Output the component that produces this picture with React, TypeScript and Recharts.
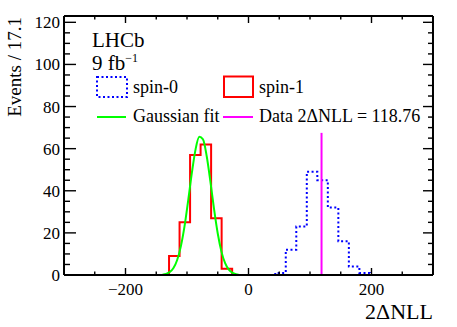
import { ComposedChart, Line, XAxis, YAxis } from "recharts";

// spin-1 pseudo-experiments (red), bin edges and counts
const redEdges = [-129.2, -112.1, -95.0, -77.9, -60.8, -43.7, -26.6];
const redCounts = [9, 25, 57, 62, 27, 3];

// spin-0 pseudo-experiments (blue dotted)
const blueEdges = [43.5, 60.6, 77.7, 94.8, 111.9, 129.0, 146.1, 163.2, 180.3, 197.4];
const blueCounts = [1, 12, 23, 49, 45, 32, 16, 4, 1];

// Gaussian fit to spin-1
const gaussX = [-140, -134, -128, -122, -116, -110, -104, -98, -92, -86, -80, -74, -68, -62, -56, -50, -44, -38, -32, -26, -20, -16];
const gaussY = [0.17, 0.52, 1.39, 3.3, 7.1, 13.6, 23.2, 35.6, 48.7, 59.8, 65.6, 64.4, 56.5, 44.5, 31.3, 19.7, 11.1, 5.6, 2.5, 1.0, 0.37, 0.17];

// observed value in data and height of the marker line
const dataValue = 118.76;
const dataLineTop = 67.5;

const xMajor = [-200, 0, 200];
const xMinor = [-250, -150, -100, -50, 50, 100, 150, 250];
const yMajor = [0, 20, 40, 60, 80, 100, 120];
const yMinor = [5, 10, 15, 25, 30, 35, 45, 50, 55, 65, 70, 75, 85, 90, 95, 105, 110, 115];

const X_DOMAIN: [number, number] = [-300, 300];
const Y_DOMAIN: [number, number] = [0, 123];

const FONT = "'Liberation Serif', 'DejaVu Serif', serif";
const TINY = 0.01; // axes take (almost) no room, margins place the frame

// plot box in pixels, same as the chart margins below
const BOX = { left: 64, right: 433, top: 16, bottom: 275 };
const px = (v: number) => BOX.left + ((v - X_DOMAIN[0]) / (X_DOMAIN[1] - X_DOMAIN[0])) * (BOX.right - BOX.left);
const py = (v: number) => BOX.bottom - ((v - Y_DOMAIN[0]) / (Y_DOMAIN[1] - Y_DOMAIN[0])) * (BOX.bottom - BOX.top);

type Pt = { x: number; y: number };

/** Histogram outline as stepAfter points: rise at first edge, drop at last. */
function histPoints(edges: number[], counts: number[]): Pt[] {
  const pts: Pt[] = [{ x: edges[0], y: 0 }];
  counts.forEach((c, i) => pts.push({ x: edges[i], y: c }));
  pts.push({ x: edges[edges.length - 1], y: 0 });
  return pts;
}

const redPts = histPoints(redEdges, redCounts);
const bluePts = histPoints(blueEdges, blueCounts);
const gaussPts = gaussX.map((x, i) => ({ x, y: gaussY[i] }));
const dataPts = [
  { x: dataValue, y: 0 },
  { x: dataValue, y: dataLineTop },
];

const fmt = (v: number) => (v < 0 ? `\u2212${-v}` : `${v}`);

const axisLine = { stroke: "#000", strokeWidth: 2 };
const tickFont = { fontSize: 17, fill: "#000", fontFamily: FONT };

// inward ROOT-style tick marks on all four sides
function FrameTicks() {
  const xs = [...xMajor.map((v) => [v, 7]), ...xMinor.map((v) => [v, 3.5])];
  const ys = [...yMajor.map((v) => [v, 12, 10]), ...yMinor.map((v) => [v, 6, 5])];
  return (
    <g stroke="#000" strokeWidth={1.4}>
      {xs.map(([v, len]) => (
        <g key={`x${v}`}>
          <line x1={px(v)} y1={BOX.bottom} x2={px(v)} y2={BOX.bottom - len} />
          <line x1={px(v)} y1={BOX.top} x2={px(v)} y2={BOX.top + len} />
        </g>
      ))}
      {ys.map(([v, l, r]) => (
        <g key={`y${v}`}>
          <line x1={BOX.left} y1={py(v)} x2={BOX.left + l} y2={py(v)} />
          <line x1={BOX.right} y1={py(v)} x2={BOX.right - r} y2={py(v)} />
        </g>
      ))}
    </g>
  );
}

export default function App() {
  return (
    <div style={{ position: "absolute", left: 0, top: 0, width: 457, height: 327, background: "#fff" }}>
      <ComposedChart width={457} height={327}
        margin={{ top: BOX.top, right: 457 - BOX.right, bottom: 327 - BOX.bottom, left: BOX.left }}>
        <XAxis xAxisId="b" orientation="bottom" type="number" dataKey="x" domain={X_DOMAIN} allowDataOverflow
          height={TINY} ticks={xMajor} interval={0} tickLine={false} tickSize={0} tickMargin={8}
          tick={tickFont} tickFormatter={fmt} axisLine={axisLine} />
        <XAxis xAxisId="t" orientation="top" type="number" dataKey="x" domain={X_DOMAIN} allowDataOverflow
          height={TINY} ticks={xMajor} tick={false} tickLine={false} axisLine={axisLine} />
        <YAxis yAxisId="l" orientation="left" type="number" domain={Y_DOMAIN} allowDataOverflow
          width={TINY} ticks={yMajor} interval={0} tickLine={false} tickSize={0} tickMargin={4}
          tick={tickFont} axisLine={axisLine} />
        <YAxis yAxisId="r" orientation="right" type="number" domain={Y_DOMAIN} allowDataOverflow
          width={TINY} ticks={yMajor} tick={false} tickLine={false} axisLine={axisLine} />

        <Line xAxisId="b" yAxisId="l" data={bluePts} dataKey="y" type="stepAfter" stroke="#0000ff"
          strokeWidth={2} strokeDasharray="2 2.5" dot={false} isAnimationActive={false} />
        <Line xAxisId="b" yAxisId="l" data={redPts} dataKey="y" type="stepAfter" stroke="#ff0000"
          strokeWidth={2} dot={false} isAnimationActive={false} />
        <Line xAxisId="b" yAxisId="l" data={gaussPts} dataKey="y" type="monotone" stroke="#00ff00"
          strokeWidth={2} dot={false} isAnimationActive={false} />
        <Line xAxisId="b" yAxisId="l" data={dataPts} dataKey="y" type="linear" stroke="#ff00ff"
          strokeWidth={2} dot={false} isAnimationActive={false} />
      </ComposedChart>

      <svg width={457} height={327} style={{ position: "absolute", left: 0, top: 0, pointerEvents: "none" }}
        fontFamily={FONT} fill="#000">
        <FrameTicks />

        <text x={21} y={17} fontSize={19} textAnchor="end" transform="rotate(-90 21 17)">Events / 17.1</text>
        <text x={433} y={319} fontSize={22} textAnchor="end">2ΔNLL</text>

        <text x={92} y={47} fontSize={21}>LHCb</text>
        <text x={92} y={70} fontSize={21}>
          9 fb<tspan fontSize={12} dy={-8}>{"\u22121"}</tspan>
        </text>

        <rect x={97} y={77} width={30} height={20} fill="none" stroke="#0000ff" strokeWidth={2} strokeDasharray="2 2.5" />
        <text x={133} y={92.5} fontSize={18}>spin-0</text>
        <rect x={224} y={76.5} width={29} height={20.5} fill="none" stroke="#ff0000" strokeWidth={2} />
        <text x={259} y={92.5} fontSize={18}>spin-1</text>

        <line x1={97} y1={117} x2={126} y2={117} stroke="#00ff00" strokeWidth={2} />
        <text x={133} y={122} fontSize={18}>Gaussian fit</text>
        <line x1={223} y1={117} x2={253} y2={117} stroke="#ff00ff" strokeWidth={2} />
        <text x={259} y={122} fontSize={18}>Data 2ΔNLL = 118.76</text>
      </svg>
    </div>
  );
}
